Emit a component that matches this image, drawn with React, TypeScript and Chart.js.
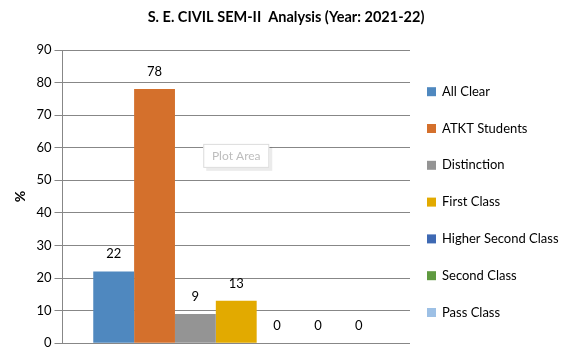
import React, { useEffect, useRef } from "react";
import { Chart, registerables } from "chart.js";

Chart.register(...registerables);

const categories = ["2021-22"];
const seriesNames = [
  "All Clear",
  "ATKT Students",
  "Distinction",
  "First Class",
  "Higher Second Class",
  "Second Class",
  "Pass Class",
];
const seriesValues = [22, 78, 9, 13, 0, 0, 0];
const seriesColors = [
  "#4F88BF",
  "#D4702C",
  "#949494",
  "#E2AA00",
  "#3E69B3",
  "#5F9A40",
  "#9DC0E5",
];
const yTicks = { min: 0, max: 90, step: 10 };
const titleText = "S. E. CIVIL SEM-II  Analysis (Year: 2021-22)";
const yAxisTitle = "%";
const FONT = "Lato, 'Open Sans', sans-serif";

const extrasPlugin = {
  id: "extras",
  afterDatasetsDraw(chart: any) {
    const ctx = chart.ctx;
    ctx.save();
    // title
    ctx.font = `bold 14.5px ${FONT}`;
    ctx.fillStyle = "#000";
    ctx.textAlign = "center";
    ctx.textBaseline = "middle";
    ctx.fillText(titleText, chart.width / 2, 17.5);
    // data labels
    ctx.font = `13px ${FONT}`;
    chart.data.datasets.forEach((ds: any, i: number) => {
      const meta = chart.getDatasetMeta(i);
      meta.data.forEach((el: any, j: number) => {
        ctx.fillText(String(ds.data[j]), el.x, el.y - 17.5);
      });
    });
    // "Plot Area" hover tag
    const ca = chart.chartArea;
    const cx = (ca.left + ca.right) / 2;
    const cy = chart.scales.y.getPixelForValue(57.5);
    const w = 66, h = 24;
    ctx.fillStyle = "rgba(0,0,0,0.08)";
    ctx.fillRect(cx - w / 2 + 3, cy - h / 2 + 3, w, h);
    ctx.fillStyle = "#fff";
    ctx.fillRect(cx - w / 2, cy - h / 2, w, h);
    ctx.strokeStyle = "#dcdcdc";
    ctx.lineWidth = 1;
    ctx.strokeRect(cx - w / 2 + 0.5, cy - h / 2 + 0.5, w - 1, h - 1);
    ctx.font = `12px ${FONT}`;
    ctx.fillStyle = "#bdbdbd";
    ctx.fillText("Plot Area", cx, cy);
    // legend
    const lx = ca.right + 17;
    const top = 91.7;
    const gap = 36.8;
    ctx.textAlign = "left";
    ctx.font = `13px ${FONT}`;
    chart.data.datasets.forEach((ds: any, i: number) => {
      const y = top + i * gap;
      ctx.fillStyle = ds.backgroundColor;
      ctx.fillRect(lx, y - 4.5, 9, 9);
      ctx.fillStyle = "#000";
      ctx.fillText(ds.label, lx + 15, y);
    });
    ctx.restore();
  },
};

export default function App() {
  const ref = useRef<HTMLCanvasElement>(null);
  useEffect(() => {
    document.body.style.margin = "0";
    const chart = new Chart(ref.current!, {
      type: "bar",
      data: {
        labels: categories,
        datasets: seriesNames.map((name, i) => ({
          label: name,
          data: [seriesValues[i]],
          backgroundColor: seriesColors[i],
          borderWidth: 0,
          categoryPercentage: 0.823,
          barPercentage: 1,
        })),
      },
      options: {
        animation: false,
        responsive: false,
        maintainAspectRatio: false,
        layout: { padding: { left: 0, right: 162, top: 50, bottom: 9 } },
        plugins: {
          legend: { display: false },
          tooltip: { enabled: false },
          title: { display: false },
        },
        scales: {
          x: { display: false },
          y: {
            min: yTicks.min,
            max: yTicks.max,
            ticks: {
              stepSize: yTicks.step,
              color: "#000",
              font: { family: FONT, size: 13 },
              padding: 3,
            },
            grid: {
              color: "#878787",
              lineWidth: 1,
              tickLength: 8,
              drawTicks: true,
            },
            border: { color: "#878787", width: 1 },
            title: {
              display: true,
              text: yAxisTitle,
              color: "#000",
              font: { family: FONT, size: 14, weight: "bold" },
              padding: { top: 12, bottom: 0 },
            },
            afterFit(scale: any) {
              scale.width = 62.5;
            },
          },
        },
      },
      plugins: [extrasPlugin],
    });
    return () => chart.destroy();
  }, []);
  return (
    <div style={{ width: 572, height: 354, background: "#fff" }}>
      <canvas ref={ref} width={572} height={354} />
    </div>
  );
}
